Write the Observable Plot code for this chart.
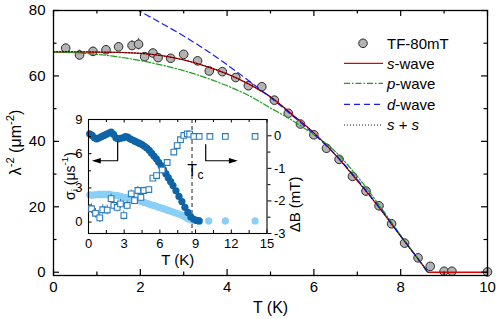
<!DOCTYPE html>
<html><head><meta charset="utf-8">
<script src="https://cdn.jsdelivr.net/npm/d3@7"></script>
<script src="https://cdn.jsdelivr.net/npm/@observablehq/plot@0.6"></script>
<style>
html,body{margin:0;padding:0;background:#fff;}
#wrap{position:relative;width:498px;height:319px;font-family:"Liberation Sans",Arial,sans-serif;}
#wrap svg{position:absolute;left:0;top:0;}
</style></head><body><div id="wrap"></div>
<script>
// ---------- main panel data: superfluid density λ^-2 vs T ----------
const mainT   = [0.28,0.6,0.91,1.21,1.5,1.81,1.96,2.1,2.29,2.41,2.7,3.0,3.32,3.59,3.89,4.2,4.49,4.8,5.09,5.41,5.69,6.0,6.29,6.58,6.89,7.2,7.5,7.79,8.09,8.4,8.68,9.0,9.18,10.0];
const mainL   = [68.5,66.4,67.5,68.0,68.9,69.3,69.7,65.9,67.0,65.6,65.4,66.6,64.6,61.5,61.3,59.5,57.0,56.7,52.6,48.6,45.3,42.0,37.9,34.5,29.3,24.8,20.3,14.8,8.9,4.4,1.8,0.3,0.3,0.1];
const mainErr = [1.2,1.5,1.3,1.3,1.3,1.5,1.8,1.2,1.2,1.2,1.1,1.0,1.0,1.0,0.9,0.9,0.9,0.8,0.8,0.8,0.8,0.8,0.8,0.8,0.8,0.8,0.8,0.8,0.8,0.8,0.8,0.6,0.6,0.6];

// fit curves
const sT  = [0,0.5,1,1.5,2,2.5,3,3.5,4,4.5,5,5.5,6,6.5,7,7.5,8,8.3,8.5,8.63,10];
const sV  = [67.3,67.3,67.3,67.2,66.9,66.2,64.9,63.0,60.6,57.5,53.6,48.2,42.6,35.8,28.0,19.8,11.0,5.8,2.3,0,0];
const ssT = [0,0.5,1,1.5,2,2.5,3,3.5,4,4.5,5,5.5,6,6.5,7,7.5,8,8.3,8.5,8.63];
const ssV = [67.4,67.4,67.3,67.2,66.9,66.2,64.9,63.0,60.6,57.5,53.6,48.2,42.6,35.8,28.0,19.8,11.0,5.8,2.3,0];
const pT  = [0,0.5,1,1.5,2,2.5,3,3.5,4,4.5,5,5.5,6,6.5,7,7.5,8,8.3,8.5,8.63];
const pV  = [67.3,67.1,66.6,65.8,64.7,63.3,61.6,59.5,57.0,54.0,50.2,46.4,42.0,36.8,29.3,20.6,11.3,5.9,2.4,0];
const dT  = [1.5,2,2.5,3,3.5,4,4.5,5,5.5,6,6.5,7,7.5,8,8.3,8.5,8.63];
const dV  = [83.4,79.7,76.0,72.2,68.0,63.4,58.5,53.4,47.9,42.2,35.9,28.3,20.0,11.1,5.8,2.3,0];

const xMajor = [0,2,4,6,8,10], xMinor = [1,3,5,7,9];
const yMajor = [0,20,40,60,80], yMinor = [10,30,50,70];
const legendLabels = [[["TF-80mT",false]],[["s",true],["-wave",false]],[["p",true],["-wave",false]],[["d",true],["-wave",false]],[["s",true],[" + ",false],["s",true]]];

// ---------- inset data ----------
const scT = [0.1,0.3,0.5,0.7,0.9,1.1,1.3,1.5,1.7,1.9,2.1,2.3,2.5,2.7,2.9,3.1,3.3,3.5,3.7,3.9,4.1,4.3,4.5,4.7,4.9,5.1,5.3,5.5,5.7,5.9,6.1,6.3,6.5,6.7,6.9,7.1,7.35,7.6,7.85,8.1,8.35,8.6,8.85,9.1,9.3];
const scV = [7.75,7.6,7.4,7.3,7.4,7.5,7.6,7.7,7.8,7.9,7.7,7.4,7.3,7.35,7.4,7.5,7.45,7.3,7.2,7.1,7.0,6.9,6.8,6.65,6.5,6.3,6.05,5.8,5.55,5.25,4.95,4.6,4.25,3.9,3.55,3.2,2.75,2.25,1.8,1.3,0.85,0.45,0.25,0.15,0.1];
const nmT = [0.1,0.3,0.5,0.7,0.9,1.1,1.3,1.5,1.7,1.9,2.1,2.3,2.5,2.7,2.9,3.1,3.3,3.5,3.7,3.9,4.1,4.3,4.5,4.7,4.9,5.1,5.3,5.5,5.7,5.9,6.1,6.3,6.5,6.7,6.9,7.1,7.35,7.6,7.85,8.1,8.35,8.6,8.85,9.1,9.3,10.1,11.5,14.0];
const nmV = [2.4,2.35,2.4,2.4,2.45,2.4,2.45,2.4,2.45,2.4,2.35,2.35,2.3,2.25,2.2,2.15,2.1,2.05,2.0,1.95,1.9,1.85,1.8,1.72,1.65,1.58,1.5,1.45,1.38,1.3,1.25,1.18,1.1,1.02,0.95,0.88,0.8,0.7,0.6,0.45,0.3,0.2,0.15,0.12,0.1,0.1,0.1,0.1];
const dbT = [0.25,0.59,0.95,1.2,1.57,1.9,2.13,2.41,2.69,2.97,3.25,3.59,3.87,4.15,4.4,4.65,5.07,5.41,5.72,6.19,6.61,7.17,7.45,7.73,8.01,8.3,8.5,8.85,9.3,10.2,11.5,14.0];
const dbV = [-2.24,-2.38,-2.52,-2.27,-2.28,-1.93,-2.14,-2.2,-2.09,-2.45,-2.14,-1.78,-1.99,-1.68,-1.89,-1.68,-1.65,-1.3,-1.22,-1.05,-0.82,-0.5,-0.3,-0.12,0.01,0.06,0.05,-0.02,-0.02,-0.02,-0.02,-0.02];
const dbErr = [0.15,0.15,0.15,0.15,0.15,0.14,0.14,0.14,0.14,0.14,0.13,0.12,0.12,0.12,0.12,0.1,0.1,0.08,0.08,0.06,0.06,0.05,0.05,0.04,0.04,0.04,0.04,0.04,0.04,0.04,0.04,0.04];
const Tc = 8.7;
const insetXMajor = [0,3,6,9,12,15], insetXMinor = [1.5,4.5,7.5,10.5,13.5];
const insetYMajor = [0,3,6,9], insetYMinor = [1.5,4.5,7.5];
const rightMajor = [0,-1,-2,-3], rightMinor = [-0.5,-1.5,-2.5];
const arrowL = [[2.45,7.05],[2.45,5.38],[0.5,5.38]], headL = [[0.28,5.38]];
const arrowR = [[9.85,6.8],[9.85,5.38],[12.3,5.38]], headR = [[12.55,5.38]];

// ---------- build ----------
const FONT = "'Liberation Sans', Arial, sans-serif";
const W = 498, H = 319;
const zip = (a, b, c) => a.map((t, i) => ({t, v: b[i], e: c ? c[i] : 0}));
const main = zip(mainT, mainL, mainErr);
const style = {fontFamily: FONT, background: "transparent", overflow: "visible", color: "black"};

const M = {l: 53, r: 11, t: 10, b: 44};
const FW = W - M.l - M.r, FH = H - M.t - M.b;

const mainPlot = Plot.plot({
  width: W, height: H, marginLeft: M.l, marginRight: M.r, marginTop: M.t, marginBottom: M.b,
  style: {...style, background: "white"},
  x: {domain: [0, 10]}, y: {domain: [-1, 80]},
  marks: [
    Plot.ruleX(main, {x: "t", y1: d => d.v - d.e, y2: d => d.v + d.e, stroke: "#555", strokeWidth: 1}),
    Plot.dot(main, {x: "t", y: "v", r: 4.3, fill: "#b3b3b3", stroke: "#2a2a2a", strokeWidth: 1}),
    Plot.line(zip(sT, sV), {x: "t", y: "v", stroke: "#e00000", strokeWidth: 1.3, curve: "monotone-x"}),
    Plot.line(zip(pT, pV), {x: "t", y: "v", stroke: "#1e9e1e", strokeWidth: 1.2, strokeDasharray: "6,2,1.5,2", curve: "monotone-x"}),
    Plot.line(zip(dT, dV), {x: "t", y: "v", stroke: "#1a1aff", strokeWidth: 1.2, strokeDasharray: "6,4", curve: "monotone-x", clip: true}),
    Plot.line(zip(ssT, ssV), {x: "t", y: "v", stroke: "#000", strokeWidth: 0.9, strokeDasharray: "1,2", curve: "monotone-x"}),
    Plot.frame({stroke: "black", strokeWidth: 1.3}),
    Plot.tickX(xMajor, {x: d => d, insetTop: FH - 6, strokeWidth: 1.2}),
    Plot.tickX(xMajor, {x: d => d, insetBottom: FH - 6, strokeWidth: 1.2}),
    Plot.tickX(xMinor, {x: d => d, insetTop: FH - 3.5, strokeWidth: 1.2}),
    Plot.tickX(xMinor, {x: d => d, insetBottom: FH - 3.5, strokeWidth: 1.2}),
    Plot.tickY(yMajor, {y: d => d, insetRight: FW - 6, strokeWidth: 1.2}),
    Plot.tickY(yMajor, {y: d => d, insetLeft: FW - 6, strokeWidth: 1.2}),
    Plot.tickY(yMinor, {y: d => d, insetRight: FW - 3.5, strokeWidth: 1.2}),
    Plot.tickY(yMinor, {y: d => d, insetLeft: FW - 3.5, strokeWidth: 1.2}),
    Plot.axisX({ticks: xMajor, tickSize: 0, tickPadding: 6, fontSize: 15, label: null, tickFormat: d => String(d)}),
    Plot.axisY({ticks: yMajor, tickSize: 0, tickPadding: 8, fontSize: 15, label: null, tickFormat: d => String(d)}),
    Plot.text(["T (K)"], {frameAnchor: "bottom", dy: 32, fontSize: 16, lineAnchor: "middle"})
  ]
});

// inset (left axis)
const IM = {l: 88, r: 231.5, t: 119, b: 86};
const IW = W - IM.l - IM.r, IH = H - IM.t - IM.b;
const head = {draw(c) { c.moveTo(0, 0); c.lineTo(-9, -2.8); c.lineTo(-9, 2.8); c.closePath(); }};
const toPts = a => a.map(([t, v]) => ({t, v}));

const insetPlot = Plot.plot({
  width: W, height: H, marginLeft: IM.l, marginRight: IM.r, marginTop: IM.t, marginBottom: IM.b,
  style,
  x: {domain: [0, 15]}, y: {domain: [-1, 9]},
  marks: [
    Plot.frame({fill: "white", stroke: null}),
    Plot.ruleX([Tc], {x: d => d, stroke: "#222", strokeWidth: 1, strokeDasharray: "4,3"}),
    Plot.dot(zip(nmT, nmV), {x: "t", y: "v", r: 3.6, fill: "#89cff7", stroke: null}),
    Plot.dot(zip(scT, scV), {x: "t", y: "v", r: 3.6, fill: "#0f64a6", stroke: null}),
    Plot.line(toPts(arrowL), {x: "t", y: "v", stroke: "black", strokeWidth: 1.2}),
    Plot.line(toPts(arrowR), {x: "t", y: "v", stroke: "black", strokeWidth: 1.2}),
    Plot.dot(toPts(headL), {x: "t", y: "v", symbol: head, r: 3, fill: "black", stroke: null, rotate: 180}),
    Plot.dot(toPts(headR), {x: "t", y: "v", symbol: head, r: 3, fill: "black", stroke: null, rotate: 0}),
    Plot.text([{t: 8.29, v: 4.06}], {x: "t", y: "v", text: () => "T", fontSize: 16, textAnchor: "start", lineAnchor: "bottom"}),
    Plot.text([{t: 9.16, v: 3.74}], {x: "t", y: "v", text: () => "c", fontSize: 12, textAnchor: "start", lineAnchor: "bottom"}),
    Plot.frame({stroke: "black", strokeWidth: 1.1}),
    Plot.tickX(insetXMajor, {x: d => d, insetTop: IH - 3.5}),
    Plot.tickX(insetXMajor, {x: d => d, insetBottom: IH - 3.5}),
    Plot.tickX(insetXMinor, {x: d => d, insetTop: IH - 3}),
    Plot.tickX(insetXMinor, {x: d => d, insetBottom: IH - 3}),
    Plot.tickY(insetYMajor, {y: d => d, insetRight: IW - 3.5}),
    Plot.tickY(insetYMinor, {y: d => d, insetRight: IW - 3}),
    Plot.axisX({ticks: insetXMajor, tickSize: 0, tickPadding: 5, fontSize: 13, label: null, tickFormat: d => String(d)}),
    Plot.axisY({ticks: insetYMajor, tickSize: 0, tickPadding: 6, fontSize: 13, label: null, tickFormat: d => String(d)}),
    Plot.text(["T (K)"], {frameAnchor: "bottom", dy: 27, fontSize: 15, lineAnchor: "middle"})
  ]
});

// inset (right axis, ΔB)
const db = zip(dbT, dbV, dbErr);
const rightPlot = Plot.plot({
  width: W, height: H, marginLeft: IM.l, marginRight: IM.r, marginTop: IM.t, marginBottom: IM.b,
  style,
  x: {domain: [0, 15], axis: null}, y: {domain: [-3, 0.5]},
  marks: [
    Plot.ruleX(db, {x: "t", y1: d => d.v - d.e, y2: d => d.v + d.e, stroke: "#2b7bba", strokeWidth: 1}),
    Plot.dot(db, {x: "t", y: "v", symbol: "square", r: 3.2, fill: "white", stroke: "#2b7bba", strokeWidth: 1.1}),
    Plot.axisY({anchor: "right", ticks: rightMajor, tickSize: 4, tickPadding: 3, fontSize: 13, label: null, tickFormat: d => String(d)}),
    Plot.axisY({anchor: "right", ticks: rightMinor, tickSize: 3, tickPadding: 3, fontSize: 13, label: null, tickFormat: () => ""}),
    Plot.text(["ΔB (mT)"], {frameAnchor: "right", dx: 28, rotate: -90, fontSize: 15, lineAnchor: "middle"})
  ]
});

const wrap = document.getElementById("wrap");
wrap.append(mainPlot, insetPlot, rightPlot);

// rotated axis titles with real super/subscripts
function rotLabel(svgNode, cx, cy, size, parts) {
  const t = d3.select(svgNode).append("text")
    .attr("transform", `translate(${cx},${cy}) rotate(-90)`)
    .attr("text-anchor", "middle").attr("font-family", FONT).attr("font-size", size)
    .attr("fill", "black").attr("dominant-baseline", "middle");
  let shift = 0;
  parts.forEach(([s, kind]) => {
    const target = kind === "sup" ? -0.4 * size : kind === "sub" ? 0.3 * size : 0;
    const sp = t.append("tspan").attr("dy", target - shift).text(s);
    if (kind) sp.attr("font-size", size * 0.7);
    shift = target;
  });
}
rotLabel(mainPlot, 17, (M.t + H - M.b) / 2, 16, [["λ"], ["-2", "sup"], [" (μm"], ["-2", "sup"], [")"]]);
rotLabel(insetPlot, 71, (IM.t + H - IM.b) / 2, 14, [["σ"], ["i", "sub"], [" (μs"], ["-1", "sup"], [")"]]);

// legend
const svg = d3.select(mainPlot);
const g = svg.append("g").attr("font-family", FONT).attr("font-size", 15).attr("fill", "black").attr("text-anchor", "start");
const lx1 = 344, lx2 = 383, tx = 387;
const rowsY = [43.3, 63.3, 83.3, 104.3, 125];
g.append("circle").attr("cx", 363).attr("cy", rowsY[0]).attr("r", 4.3).attr("fill", "#b3b3b3").attr("stroke", "#2a2a2a");
const lineStyles = [null, {c: "#e00000", d: null, w: 1.3}, {c: "#1e9e1e", d: "6,2,1.5,2", w: 1.2}, {c: "#1a1aff", d: "6,4", w: 1.2}, {c: "#000", d: "1,2", w: 0.9}];
lineStyles.forEach((s, i) => {
  if (!s) return;
  g.append("line").attr("x1", lx1).attr("x2", lx2).attr("y1", rowsY[i]).attr("y2", rowsY[i])
    .attr("stroke", s.c).attr("stroke-width", s.w).attr("stroke-dasharray", s.d);
});
legendLabels.forEach((segs, i) => {
  const t = g.append("text").attr("x", tx).attr("y", rowsY[i] + 5.3);
  segs.forEach(([s, it]) => t.append("tspan").attr("font-style", it ? "italic" : "normal").text(s));
});
</script></body></html>
